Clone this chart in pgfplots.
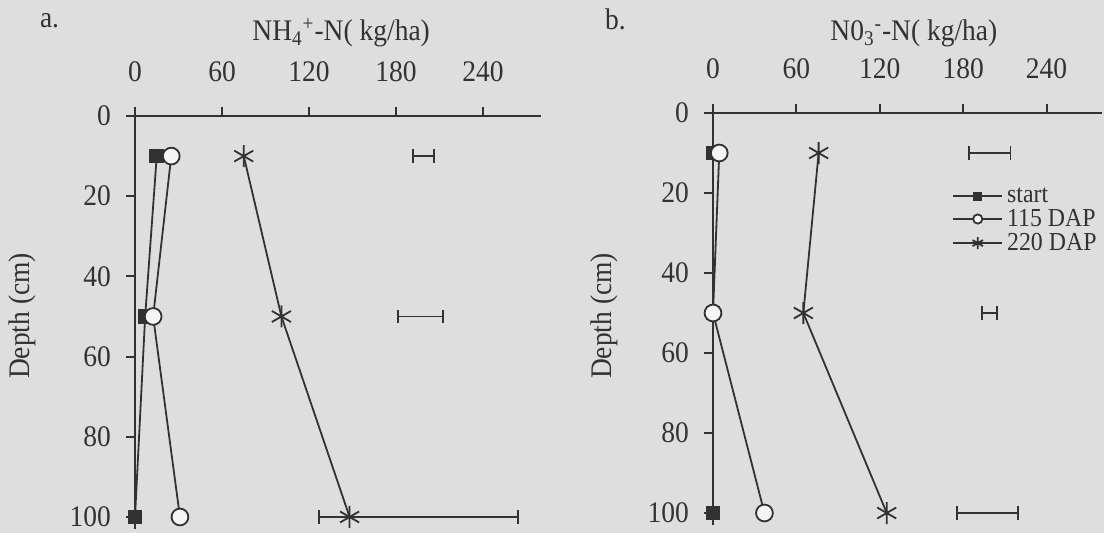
\documentclass[border=0pt]{standalone}
\usepackage{fontspec}
\setmainfont[FakeStretch=0.92]{Liberation Serif}
\usepackage{pgfplots}
\pgfplotsset{compat=1.18}
\definecolor{bg}{RGB}{222,222,222}
\definecolor{lc}{RGB}{50,50,50}
\pgfplotsset{
  panel/.style={
    scale only axis,
    y dir=reverse,
    xmin=0, xmax=280, ymin=0, ymax=103,
    axis x line*=top, axis y line*=left,
    axis line style={lc, line width=1bp, -},
    xtick={0,60,120,180,240}, ytick={0,20,40,60,80,100},
    tick align=outside, major tick length=4.5bp,
    tick style={lc, line width=1bp},
    ticklabel style={font=\fontsize{15}{18}\selectfont, text=lc},
    /pgf/number format/assume math mode=true,
    xticklabel shift=9bp,
    yticklabel shift=4bp,
    clip=false,
  },
  sstart/.style={lc, line width=0.9bp, mark=square*, mark size=3.2bp, mark options={fill=lc, solid}},
  sdap/.style={lc, line width=0.9bp, mark=*, mark size=4.2bp, mark options={fill=white!96!black, solid}},
  sdapb/.style={lc, line width=0.9bp, mark=asterisk, mark size=5.5bp, mark options={solid, line width=0.9bp}},
  serr/.style={draw=none, mark=none, forget plot,
    error bars/.cd, x dir=both, x explicit,
    error bar style={draw=lc, line width=0.9bp},
    error mark options={rotate=90, draw=lc, mark size=3.3bp, line width=0.9bp}},
}
\begin{document}
\begin{tikzpicture}
\path[use as bounding box] (0,0) rectangle (552bp,266.5bp);
\fill[bg] (0,0) rectangle (552bp,266.5bp);

% panel a
\begin{axis}[panel, at={(67.5bp,208.5bp)}, anchor=north west, width=203bp, height=206.5bp]
\addplot[sstart] coordinates {(15,10) (7,50) (0,100)};
\addplot[sdap] coordinates {(25,10) (12.5,50) (31,100)};
\addplot[sdapb] coordinates {(75,10) (101,50) (148,100)};
\addplot[serr] coordinates {(199,10) +- (7,0) (197,50) +- (15.5,0) (195.5,100) +- (68.5,0)};
\end{axis}

% panel b
\begin{axis}[panel, at={(356.5bp,210bp)}, anchor=north west, width=194.6bp, height=206bp,
  legend style={at={(axis description cs:0.614,0.83)}, anchor=north west, draw=none, fill=none,
    font=\fontsize{13}{14}\selectfont, text=lc, inner sep=0pt, row sep=-2bp,
    /tikz/every even column/.append style={column sep=1bp}},
  legend cell align=left,
  legend image code/.code={\draw[mark repeat=2, mark phase=2, every mark/.append style={scale=0.55}]
      plot coordinates {(0bp,0bp) (12.25bp,0bp) (24.5bp,0bp)};}]
\addplot[sstart] coordinates {(0,10) (0,50) (0,100)};
\addlegendentry{start}
\addplot[sdap] coordinates {(4.5,10) (0,50) (37,100)};
\addlegendentry{115 DAP}
\addplot[sdapb] coordinates {(76,10) (65,50) (125,100)};
\addlegendentry{220 DAP}
\addplot[serr] coordinates {(199,10) +- (15,0) (199,50) +- (5.3,0) (197.5,100) +- (21.7,0)};
\end{axis}

% texts
\node[anchor=base west, text=lc, font=\fontsize{15}{18}\selectfont] at (16.5bp,252.5bp) {a.};
\node[anchor=base west, text=lc, font=\fontsize{15}{18}\selectfont] at (299bp,251.5bp) {b.};
\node[anchor=base west, text=lc, font=\fontsize{15}{18}\selectfont, inner sep=0pt] at (126bp,246bp) {NH\textsubscript{4}\textsuperscript{+}-N( kg/ha)};
\node[anchor=base west, text=lc, font=\fontsize{15}{18}\selectfont, inner sep=0pt] at (415bp,246bp) {N0\textsubscript{3}\textsuperscript{-}-N( kg/ha)};
\node[rotate=90, text=lc, font=\fontsize{15}{18}\selectfont] at (11bp,108.5bp) {Depth (cm)};
\node[rotate=90, text=lc, font=\fontsize{15}{18}\selectfont] at (302bp,108.5bp) {Depth (cm)};
\end{tikzpicture}
\end{document}
